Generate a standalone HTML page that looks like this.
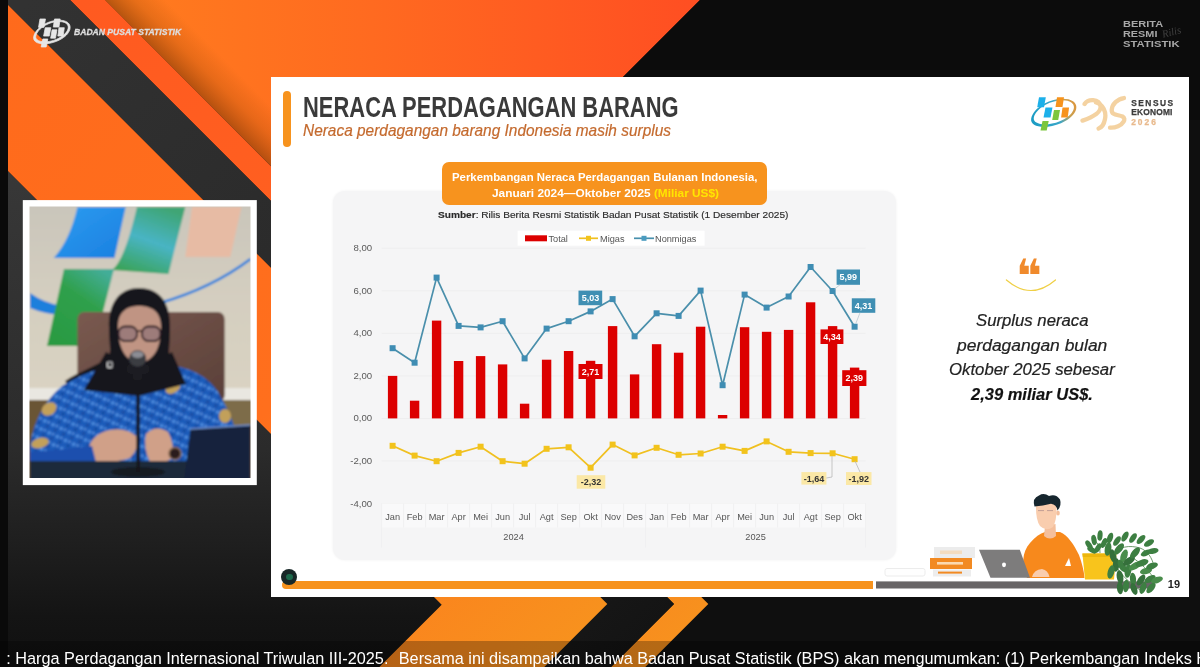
<!DOCTYPE html>
<html lang="id"><head><meta charset="utf-8"><title>Neraca Perdagangan Barang</title>
<style>
html,body{margin:0;padding:0;background:#0f0f0f;}
body{width:1200px;height:667px;overflow:hidden;position:relative;font-family:"Liberation Sans",sans-serif;}
.abs{position:absolute;}
.t{position:absolute;white-space:nowrap;line-height:1;transform-origin:0 0;}
#slide{position:absolute;left:271px;top:77px;width:918px;height:519.6px;background:#fff;}
#panel{position:absolute;left:333px;top:191px;width:562.5px;height:369px;background:#f5f5f6;border-radius:12px;box-shadow:0 0 3px rgba(0,0,0,0.06);}
#obox{position:absolute;left:442.2px;top:162.2px;width:324.8px;height:42.4px;background:#f7931e;border-radius:7px;}
#ticker{position:absolute;left:0;top:641px;width:1200px;height:26px;background:rgba(0,0,0,0.27);}
.q{font-size:16px;font-style:italic;color:#222;-webkit-text-stroke:0.2px #222;}
.brs{font-size:9.8px;font-weight:bold;color:#a8a8a8;}
.se{font-size:8.4px;font-weight:bold;color:#3c3c3c;-webkit-text-stroke:0.25px #3c3c3c;}
</style></head><body>
<svg class="abs" style="left:0;top:0" width="1200" height="667" viewBox="0 0 1200 667">
<defs>
<linearGradient id="gOr" gradientUnits="userSpaceOnUse" x1="0" y1="0" x2="600" y2="640"><stop offset="0" stop-color="#ff6a1c"/><stop offset="0.55" stop-color="#ff6f1d"/><stop offset="1" stop-color="#f7931e"/></linearGradient>
<linearGradient id="gRed" gradientUnits="userSpaceOnUse" x1="80" y1="0" x2="700" y2="640"><stop offset="0" stop-color="#ff5a20"/><stop offset="0.5" stop-color="#ff6220"/><stop offset="1" stop-color="#f7931e"/></linearGradient>
<linearGradient id="gBand" gradientUnits="userSpaceOnUse" x1="30" y1="0" x2="640" y2="640"><stop offset="0" stop-color="#323232"/><stop offset="0.45" stop-color="#2a2a2a"/><stop offset="1" stop-color="#141414"/></linearGradient>
<linearGradient id="gTop" gradientUnits="userSpaceOnUse" x1="105" y1="0" x2="700" y2="0"><stop offset="0" stop-color="#ff7d1e"/><stop offset="0.45" stop-color="#ff6a20"/><stop offset="1" stop-color="#ff4e22"/></linearGradient>
<linearGradient id="gSh" gradientUnits="userSpaceOnUse" x1="105" y1="0" x2="135" y2="-30"><stop offset="0" stop-color="#6b2c00" stop-opacity="0.5"/><stop offset="0.5" stop-color="#8a3c00" stop-opacity="0.2"/><stop offset="1" stop-color="#8a3c00" stop-opacity="0"/></linearGradient>
<linearGradient id="gDk" gradientUnits="userSpaceOnUse" x1="0" y1="163" x2="0" y2="667"><stop offset="0" stop-color="#383838"/><stop offset="0.57" stop-color="#2b2b2b"/><stop offset="0.75" stop-color="#1f1f1f"/><stop offset="0.9" stop-color="#141414"/><stop offset="1" stop-color="#101010"/></linearGradient>
</defs>
<rect width="1200" height="667" fill="#0f0f0f"/>
<polygon points="105,0 700,0 400,300 405,300" fill="url(#gTop)"/>
<polygon points="105,0 165,0 465,300 405,300" fill="url(#gSh)"/>
<polygon points="70,0 105,0 708.3,604 645.3,667 611,667 674,604" fill="url(#gRed)"/>
<polygon points="3,0 70,0 674,604 611,667 544.3,667 607.3,604" fill="url(#gBand)"/>
<polygon points="0,163 441.7,604.7 379.4,667 0,667" fill="url(#gDk)"/>
<polygon points="0,0 3,0 607.3,604 544.3,667 379.4,667 441.7,604.7 0,163" fill="url(#gOr)"/>
<polygon points="700,0 1200,0 1200,120 580,120" fill="#0c0c0c"/>
<rect x="0" y="0" width="8" height="667" fill="#0a0a0a"/>
</svg>
<svg class="abs" style="left:28px;top:12px" width="50" height="42" viewBox="28 12 50 42"><g transform="translate(33.5 18.2) scale(0.8084 0.84) translate(-1031 -96.3)"><g stroke="#e6e6e6" stroke-width="0.9" stroke-linejoin="round"><path fill-rule="evenodd" fill="#e6e6e6" d="M1031.2,118.5 C1029.5,127.5 1046,129.5 1061,123.2 C1075,117.3 1080.5,106.5 1073,101.2 C1067,97 1054,98.2 1044.5,103.5 C1036,108.2 1032,114 1031.2,118.5 Z M1033.8,117.8 C1034.6,113.5 1038.5,108.8 1045.5,104.8 C1054.5,99.8 1066,98.8 1071.3,102.4 C1077.5,106.8 1072.5,116 1059.8,121.3 C1046.5,126.8 1032.6,124.6 1033.8,117.8 Z"/><polygon fill="#e6e6e6" points="1039.0,97.2 1045.8,97.2 1044.0,107.2 1037.2,107.2"/><polygon fill="#e6e6e6" points="1045.5,107.6 1052.5,107.6 1050.5,117.6 1043.5,117.6"/><polygon fill="#e6e6e6" points="1054.0,110.1 1060.0,110.1 1058.2,120.1 1052.2,120.1"/><polygon fill="#e6e6e6" points="1042.5,121.0 1048.7,121.0 1046.7,130.6 1040.5,130.6"/><polygon fill="#e6e6e6" points="1057.0,97.2 1064.0,97.2 1062.5,106.9 1055.5,106.9"/><polygon fill="#e6e6e6" points="1062.5,107.6 1069.1,107.6 1067.7,117.6 1061.1,117.6"/></g></g></svg>
<div class="t" id="bpsname" style="left:74px;top:27.8px;font-size:9.3px;font-weight:bold;font-style:italic;color:#dedede;-webkit-text-stroke:0.3px #dedede;transform:scaleX(0.9225);">BADAN PUSAT STATISTIK</div>
<div class="t brs" id="brs1" style="left:1122.5px;top:18.9px;transform:scaleX(1.122);">BERITA</div>
<div class="t brs" id="brs2" style="left:1122.5px;top:29px;transform:scaleX(1.1085);">RESMI</div>
<div class="t brs" id="brs3" style="left:1122.5px;top:39.2px;transform:scaleX(1.151);">STATISTIK</div>
<div class="t" id="rilis" style="left:1160.5px;top:29.5px;font-family:'Liberation Serif',serif;font-style:italic;font-size:10.5px;color:#404040;transform:rotate(-14deg);">Rilis</div>
<svg class="abs" style="left:20px;top:197px" width="240" height="292" viewBox="20 197 240 292">
<defs>
<filter id="vb" x="-5%" y="-5%" width="110%" height="110%"><feGaussianBlur stdDeviation="1.1"/></filter>
<filter id="vb2" x="-20%" y="-20%" width="140%" height="140%"><feGaussianBlur stdDeviation="2.2"/></filter>
<clipPath id="vc"><rect x="29.5" y="206.6" width="221" height="271.4"/></clipPath>
<linearGradient id="gWall" x1="0" y1="0" x2="0" y2="1"><stop offset="0" stop-color="#c9c5ba"/><stop offset="0.5" stop-color="#d4cec0"/><stop offset="1" stop-color="#dad3c2"/></linearGradient>
<linearGradient id="gBlue" x1="0" y1="0" x2="1" y2="1"><stop offset="0" stop-color="#2d9cf0"/><stop offset="1" stop-color="#1a7fe0"/></linearGradient>
<linearGradient id="gTeal" x1="0.7" y1="0" x2="0.3" y2="1"><stop offset="0" stop-color="#3fa574"/><stop offset="0.5" stop-color="#48b4c4"/><stop offset="1" stop-color="#3aa35a"/></linearGradient>
<linearGradient id="gGreen" x1="0.8" y1="0" x2="0.2" y2="1"><stop offset="0" stop-color="#43ad98"/><stop offset="0.4" stop-color="#2fa04c"/><stop offset="1" stop-color="#2a9a42"/></linearGradient>
<linearGradient id="gChair" x1="0" y1="0" x2="1" y2="1"><stop offset="0" stop-color="#7a5a50"/><stop offset="1" stop-color="#5a3f38"/></linearGradient>
<pattern id="batik" width="9" height="9" patternUnits="userSpaceOnUse" patternTransform="rotate(25)"><rect width="9" height="9" fill="#1f5cba"/><circle cx="2.5" cy="2.5" r="1.8" fill="#4f8fe0"/><circle cx="7" cy="6.5" r="1.5" fill="#17469a"/><circle cx="6.5" cy="2" r="0.9" fill="#7ab0f0"/></pattern>
</defs>
<rect x="22.8" y="200.1" width="234" height="285" fill="#ffffff"/>
<g clip-path="url(#vc)"><g filter="url(#vb)">
<rect x="24" y="200" width="232" height="195" fill="url(#gWall)"/>
<rect x="24" y="388" width="232" height="12" fill="#e9e7e1"/>
<rect x="24" y="400" width="232" height="82" fill="#6a5436"/>
<rect x="222" y="400" width="34" height="26" fill="#7d6c4a"/>
<path d="M30,293 Q44,303 62,306 L62,315 Q44,314 30,308 Z" fill="#1b7fdc"/>
<path d="M160,303 Q212,288 250.5,259" fill="none" stroke="#1b7fdc" stroke-width="2.6"/>
<path d="M77.4,207 L125.7,207 L114.5,258 L53.7,258 Q70,240 77.4,207 Z" fill="url(#gBlue)"/>
<path d="M137,207 L185.3,207 L168.5,274 L112,270 Q124,262 137,207 Z" fill="url(#gTeal)"/>
<path d="M64,269 L114,269 L94.2,346 L47,346 Z" fill="url(#gGreen)"/>
<path d="M192,207 L241.5,207 L230.3,257 L185.3,257 Z" fill="#e7bba4"/>
<rect x="77.4" y="312" width="147.3" height="90" rx="7" fill="url(#gChair)"/>
<path d="M139,288 C118,288 108,305 109,328 C109,345 112,352 108,358 C96,366 78,372 65,381 L72,392 L139,398 L186,388 L179,370 C172,364 168,358 169,350 C170,340 170,330 170,325 C170,303 160,288 139,288 Z" fill="#15151b"/>
<path d="M118,326 C118,311 128,306 139,306 C151,306 161,311 161,327 C161,346 155,361 139,363 C124,361 118,346 118,326 Z" fill="#c09483"/>
<rect x="118.5" y="326.5" width="18.5" height="14.5" rx="6.5" fill="#7a6272" fill-opacity="0.5" stroke="#2a1a20" stroke-width="1.8"/>
<rect x="142" y="326.5" width="18.5" height="14.5" rx="6.5" fill="#7a6272" fill-opacity="0.5" stroke="#2a1a20" stroke-width="1.8"/>
<path d="M137,331.5 Q139.5,330 142,331.5" fill="none" stroke="#2a1a20" stroke-width="1.4"/>
<path d="M30,445 Q36,408 62,386 Q85,372 105,368 L139,384 L176,366 Q205,372 218,392 Q232,415 237,436 L237,480 L30,480 Z" fill="url(#batik)"/>
<ellipse cx="49" cy="409" rx="8" ry="6" fill="#c2a05a" transform="rotate(-35 49 409)"/>
<ellipse cx="40" cy="443" rx="9" ry="5" fill="#c2a05a" transform="rotate(-15 40 443)"/>
<ellipse cx="72" cy="457" rx="6" ry="7" fill="#c2a05a"/>
<ellipse cx="173" cy="388" rx="8" ry="5" fill="#c2a05a" transform="rotate(-30 173 388)"/>
<ellipse cx="225" cy="416" rx="6" ry="7" fill="#c2a05a"/>
<path d="M106,352 Q139,372 172,352 L186,384 L139,396 L84,390 Z" fill="#15151b"/>
<path d="M88,452 Q90,436 106,431 Q124,426 136,436 Q140,448 130,458 Q112,464 92,461 Z" fill="#d0a088"/>
<path d="M146,434 Q156,424 168,432 Q175,444 172,458 Q162,466 150,462 Q143,448 146,434 Z" fill="#d0a088"/>
<path d="M30,452 Q60,450 92,446 L96,462 L30,470 Z" fill="#1d4fae"/>
<circle cx="175" cy="453.5" r="6" fill="#2b1d1a" stroke="#8a6a52" stroke-width="1.5"/>
<rect x="30" y="461" width="220" height="19" fill="#1f2a3a"/>
<path d="M184,480 L190.5,429 L250.5,425 L250.5,480 Z" fill="#15223c"/>
<path d="M190.5,429 L250.5,425" stroke="#6f8fcc" stroke-width="1.3" fill="none"/>
<ellipse cx="138" cy="472" rx="27" ry="5" fill="#171b22"/>
<rect x="136.3" y="372" width="3.6" height="100" fill="#17181c"/>
<rect x="127" y="364" width="22" height="10" rx="3" fill="#1b1b20"/>
<rect x="133" y="370" width="9" height="10" rx="2" fill="#1c1c20"/>
<ellipse cx="137.6" cy="358.5" rx="8.6" ry="8.2" fill="#3b3c42"/>
<ellipse cx="137.6" cy="354.6" rx="6" ry="3.4" fill="#8c8d94"/>
<rect x="107.5" y="362" width="4.5" height="5.5" rx="1" fill="none" stroke="#e8e8e8" stroke-width="1.1"/>
</g></g>
</svg>
<div id="slide"></div>
<div class="abs" style="left:283.3px;top:90.8px;width:7.5px;height:56px;border-radius:4px;background:#f7931e"></div>
<div class="t" id="title" style="left:303px;top:93px;font-size:28.6px;font-weight:bold;color:#3a3a3a;transform:scaleX(0.7668);">NERACA PERDAGANGAN BARANG</div>
<div class="t" id="subtitle" style="left:303px;top:121.8px;font-size:16.5px;font-style:italic;color:#c46a2e;-webkit-text-stroke:0.2px #c46a2e;transform:scaleX(0.935);">Neraca perdagangan barang Indonesia masih surplus</div>
<svg class="abs" style="left:1028px;top:92px" width="104" height="44" viewBox="1028 92 104 44"><defs><linearGradient id="gRing" gradientUnits="userSpaceOnUse" x1="1031" y1="120" x2="1077" y2="104"><stop offset="0" stop-color="#1a9cc4"/><stop offset="0.55" stop-color="#3aa6c8"/><stop offset="0.8" stop-color="#c9a050"/><stop offset="1" stop-color="#e0953a"/></linearGradient><filter id="lb"><feGaussianBlur stdDeviation="0.35"/></filter></defs><g filter="url(#lb)"><path fill-rule="evenodd" fill="url(#gRing)" d="M1031.2,118.5 C1029.5,127.5 1046,129.5 1061,123.2 C1075,117.3 1080.5,106.5 1073,101.2 C1067,97 1054,98.2 1044.5,103.5 C1036,108.2 1032,114 1031.2,118.5 Z M1033.8,117.8 C1034.6,113.5 1038.5,108.8 1045.5,104.8 C1054.5,99.8 1066,98.8 1071.3,102.4 C1077.5,106.8 1072.5,116 1059.8,121.3 C1046.5,126.8 1032.6,124.6 1033.8,117.8 Z"/><polygon fill="#1fb0ea" points="1039.0,97.2 1045.8,97.2 1044.0,107.2 1037.2,107.2"/><polygon fill="#1fb0ea" points="1045.5,107.6 1052.5,107.6 1050.5,117.6 1043.5,117.6"/><polygon fill="#7cc63c" points="1054.0,110.1 1060.0,110.1 1058.2,120.1 1052.2,120.1"/><polygon fill="#7cc63c" points="1042.5,121.0 1048.7,121.0 1046.7,130.6 1040.5,130.6"/><polygon fill="#f7931e" points="1057.0,97.2 1064.0,97.2 1062.5,106.9 1055.5,106.9"/><polygon fill="#f7931e" points="1062.5,107.6 1069.1,107.6 1067.7,117.6 1061.1,117.6"/><g fill="none" stroke="#f3cf9a" stroke-width="4.3" stroke-linecap="round" stroke-linejoin="round" opacity="0.92"><path d="M1084.6,104 C1088,98.6 1099,98.5 1100.5,106 C1101.5,112.5 1093,117 1082.5,120.6"/><path d="M1096,102.5 C1103,104 1106.5,112 1105,119 C1104,124.5 1101.5,127.5 1098.6,128.5"/><path d="M1124,98 C1117.5,99 1112,104 1111.7,110 C1111.5,115.5 1118,114.5 1122.5,116.5 C1127,119 1122.5,124.5 1118,126.3 C1115,127.5 1112.5,127.8 1110,127.6"/></g></g></svg>
<div class="t se" id="se1" style="left:1131.2px;top:99.3px;letter-spacing:1.5px;">SENSUS</div>
<div class="t se" id="se2" style="left:1131.2px;top:108.4px;letter-spacing:0.2px;">EKONOMI</div>
<div class="t se" id="se3" style="left:1131.2px;top:117.6px;letter-spacing:2px;color:#e8b98c;-webkit-text-stroke:0.25px #e8b98c;">2026</div>
<div id="panel"></div>
<div id="obox"></div>
<div class="t" id="ob1" style="left:452px;top:171.5px;font-size:11.3px;font-weight:bold;color:#fff;transform:scaleX(1.0075);">Perkembangan Neraca Perdagangan Bulanan Indonesia,</div>
<div class="t" id="ob2" style="left:491.5px;top:188px;font-size:11.3px;font-weight:bold;color:#fff;transform:scaleX(1.048);">Januari 2024—Oktober 2025 <span style="color:#ffe500">(Miliar US$)</span></div>
<div class="t" id="src" style="left:438px;top:209.8px;font-size:9.8px;color:#2a2a2a;-webkit-text-stroke:0.15px #2a2a2a;transform:scaleX(1.033);"><b>Sumber</b>: Rilis Berita Resmi Statistik Badan Pusat Statistik (1 Desember 2025)</div>
<svg class="abs" style="left:0;top:0" width="1200" height="667" viewBox="0 0 1200 667" font-family="'Liberation Sans', sans-serif">
<line x1="381.6" x2="865.6" y1="248.2" y2="248.2" stroke="#eeeeef" stroke-width="1"/>
<line x1="381.6" x2="865.6" y1="290.8" y2="290.8" stroke="#eeeeef" stroke-width="1"/>
<line x1="381.6" x2="865.6" y1="333.3" y2="333.3" stroke="#eeeeef" stroke-width="1"/>
<line x1="381.6" x2="865.6" y1="375.9" y2="375.9" stroke="#eeeeef" stroke-width="1"/>
<line x1="381.6" x2="865.6" y1="418.4" y2="418.4" stroke="#eeeeef" stroke-width="1"/>
<line x1="381.6" x2="865.6" y1="460.9" y2="460.9" stroke="#eeeeef" stroke-width="1"/>
<line x1="381.6" x2="865.6" y1="503.5" y2="503.5" stroke="#eeeeef" stroke-width="1"/>
<rect x="381.6" y="503.5" width="484" height="24" fill="#f9f9fa"/>
<line x1="381.6" x2="381.6" y1="503.5" y2="547.5" stroke="#f0f0f1" stroke-width="1"/>
<line x1="403.6" x2="403.6" y1="503.5" y2="527.5" stroke="#f0f0f1" stroke-width="1"/>
<line x1="425.6" x2="425.6" y1="503.5" y2="527.5" stroke="#f0f0f1" stroke-width="1"/>
<line x1="447.6" x2="447.6" y1="503.5" y2="527.5" stroke="#f0f0f1" stroke-width="1"/>
<line x1="469.6" x2="469.6" y1="503.5" y2="527.5" stroke="#f0f0f1" stroke-width="1"/>
<line x1="491.6" x2="491.6" y1="503.5" y2="527.5" stroke="#f0f0f1" stroke-width="1"/>
<line x1="513.6" x2="513.6" y1="503.5" y2="527.5" stroke="#f0f0f1" stroke-width="1"/>
<line x1="535.6" x2="535.6" y1="503.5" y2="527.5" stroke="#f0f0f1" stroke-width="1"/>
<line x1="557.6" x2="557.6" y1="503.5" y2="527.5" stroke="#f0f0f1" stroke-width="1"/>
<line x1="579.6" x2="579.6" y1="503.5" y2="527.5" stroke="#f0f0f1" stroke-width="1"/>
<line x1="601.6" x2="601.6" y1="503.5" y2="527.5" stroke="#f0f0f1" stroke-width="1"/>
<line x1="623.6" x2="623.6" y1="503.5" y2="527.5" stroke="#f0f0f1" stroke-width="1"/>
<line x1="645.6" x2="645.6" y1="503.5" y2="547.5" stroke="#f0f0f1" stroke-width="1"/>
<line x1="667.6" x2="667.6" y1="503.5" y2="527.5" stroke="#f0f0f1" stroke-width="1"/>
<line x1="689.6" x2="689.6" y1="503.5" y2="527.5" stroke="#f0f0f1" stroke-width="1"/>
<line x1="711.6" x2="711.6" y1="503.5" y2="527.5" stroke="#f0f0f1" stroke-width="1"/>
<line x1="733.6" x2="733.6" y1="503.5" y2="527.5" stroke="#f0f0f1" stroke-width="1"/>
<line x1="755.6" x2="755.6" y1="503.5" y2="527.5" stroke="#f0f0f1" stroke-width="1"/>
<line x1="777.6" x2="777.6" y1="503.5" y2="527.5" stroke="#f0f0f1" stroke-width="1"/>
<line x1="799.6" x2="799.6" y1="503.5" y2="527.5" stroke="#f0f0f1" stroke-width="1"/>
<line x1="821.6" x2="821.6" y1="503.5" y2="527.5" stroke="#f0f0f1" stroke-width="1"/>
<line x1="843.6" x2="843.6" y1="503.5" y2="527.5" stroke="#f0f0f1" stroke-width="1"/>
<line x1="865.6" x2="865.6" y1="503.5" y2="547.5" stroke="#f0f0f1" stroke-width="1"/>
<text x="372.2" y="251.2" font-size="9.6" fill="#5a5a5a" text-anchor="end">8,00</text>
<text x="372.2" y="293.8" font-size="9.6" fill="#5a5a5a" text-anchor="end">6,00</text>
<text x="372.2" y="336.3" font-size="9.6" fill="#5a5a5a" text-anchor="end">4,00</text>
<text x="372.2" y="378.9" font-size="9.6" fill="#5a5a5a" text-anchor="end">2,00</text>
<text x="372.2" y="421.4" font-size="9.6" fill="#5a5a5a" text-anchor="end">0,00</text>
<text x="372.2" y="463.9" font-size="9.6" fill="#5a5a5a" text-anchor="end">-2,00</text>
<text x="372.2" y="506.5" font-size="9.6" fill="#5a5a5a" text-anchor="end">-4,00</text>
<rect x="387.9" y="375.9" width="9.4" height="42.5" fill="#dc0000"/>
<rect x="409.9" y="400.7" width="9.4" height="17.7" fill="#dc0000"/>
<rect x="431.9" y="320.6" width="9.4" height="97.8" fill="#dc0000"/>
<rect x="453.9" y="361.0" width="9.4" height="57.4" fill="#dc0000"/>
<rect x="475.9" y="356.1" width="9.4" height="62.3" fill="#dc0000"/>
<rect x="497.9" y="364.4" width="9.4" height="54.0" fill="#dc0000"/>
<rect x="519.9" y="403.7" width="9.4" height="14.7" fill="#dc0000"/>
<rect x="541.9" y="359.7" width="9.4" height="58.7" fill="#dc0000"/>
<rect x="563.9" y="351.0" width="9.4" height="67.4" fill="#dc0000"/>
<rect x="585.9" y="360.8" width="9.4" height="57.6" fill="#dc0000"/>
<rect x="607.9" y="326.1" width="9.4" height="92.3" fill="#dc0000"/>
<rect x="629.9" y="374.4" width="9.4" height="44.0" fill="#dc0000"/>
<rect x="651.9" y="344.2" width="9.4" height="74.2" fill="#dc0000"/>
<rect x="673.9" y="352.7" width="9.4" height="65.7" fill="#dc0000"/>
<rect x="695.9" y="326.7" width="9.4" height="91.7" fill="#dc0000"/>
<rect x="717.9" y="415.0" width="9.4" height="3.4" fill="#dc0000"/>
<rect x="739.9" y="327.2" width="9.4" height="91.2" fill="#dc0000"/>
<rect x="761.9" y="331.8" width="9.4" height="86.6" fill="#dc0000"/>
<rect x="783.9" y="329.9" width="9.4" height="88.5" fill="#dc0000"/>
<rect x="805.9" y="302.3" width="9.4" height="116.1" fill="#dc0000"/>
<rect x="827.9" y="326.1" width="9.4" height="92.3" fill="#dc0000"/>
<rect x="849.9" y="367.6" width="9.4" height="50.8" fill="#dc0000"/>
<polyline points="392.6,348.2 414.6,362.7 436.6,277.6 458.6,325.9 480.6,327.4 502.6,321.2 524.6,358.4 546.6,328.6 568.6,321.2 590.6,311.4 612.6,299.1 634.6,336.3 656.6,313.3 678.6,315.9 700.6,290.6 722.6,385.2 744.6,294.6 766.6,307.6 788.6,296.5 810.6,267.0 832.6,291.0 854.6,326.7" fill="none" stroke="#4a8fab" stroke-width="1.7" stroke-linejoin="round"/>
<rect x="389.6" y="345.2" width="6" height="6" fill="#3f8db3"/>
<rect x="411.6" y="359.7" width="6" height="6" fill="#3f8db3"/>
<rect x="433.6" y="274.6" width="6" height="6" fill="#3f8db3"/>
<rect x="455.6" y="322.9" width="6" height="6" fill="#3f8db3"/>
<rect x="477.6" y="324.4" width="6" height="6" fill="#3f8db3"/>
<rect x="499.6" y="318.2" width="6" height="6" fill="#3f8db3"/>
<rect x="521.6" y="355.4" width="6" height="6" fill="#3f8db3"/>
<rect x="543.6" y="325.6" width="6" height="6" fill="#3f8db3"/>
<rect x="565.6" y="318.2" width="6" height="6" fill="#3f8db3"/>
<rect x="587.6" y="308.4" width="6" height="6" fill="#3f8db3"/>
<rect x="609.6" y="296.1" width="6" height="6" fill="#3f8db3"/>
<rect x="631.6" y="333.3" width="6" height="6" fill="#3f8db3"/>
<rect x="653.6" y="310.3" width="6" height="6" fill="#3f8db3"/>
<rect x="675.6" y="312.9" width="6" height="6" fill="#3f8db3"/>
<rect x="697.6" y="287.6" width="6" height="6" fill="#3f8db3"/>
<rect x="719.6" y="382.2" width="6" height="6" fill="#3f8db3"/>
<rect x="741.6" y="291.6" width="6" height="6" fill="#3f8db3"/>
<rect x="763.6" y="304.6" width="6" height="6" fill="#3f8db3"/>
<rect x="785.6" y="293.5" width="6" height="6" fill="#3f8db3"/>
<rect x="807.6" y="264.0" width="6" height="6" fill="#3f8db3"/>
<rect x="829.6" y="288.0" width="6" height="6" fill="#3f8db3"/>
<rect x="851.6" y="323.7" width="6" height="6" fill="#3f8db3"/>
<polyline points="392.6,445.8 414.6,455.6 436.6,461.2 458.6,452.9 480.6,446.7 502.6,461.2 524.6,463.7 546.6,448.8 568.6,447.3 590.6,467.7 612.6,444.6 634.6,455.4 656.6,447.8 678.6,454.8 700.6,453.5 722.6,446.7 744.6,450.9 766.6,441.4 788.6,451.8 810.6,453.1 832.6,453.3 854.6,459.2" fill="none" stroke="#f0c020" stroke-width="1.7" stroke-linejoin="round"/>
<rect x="389.6" y="442.8" width="6" height="6" fill="#f2c31c"/>
<rect x="411.6" y="452.6" width="6" height="6" fill="#f2c31c"/>
<rect x="433.6" y="458.2" width="6" height="6" fill="#f2c31c"/>
<rect x="455.6" y="449.9" width="6" height="6" fill="#f2c31c"/>
<rect x="477.6" y="443.7" width="6" height="6" fill="#f2c31c"/>
<rect x="499.6" y="458.2" width="6" height="6" fill="#f2c31c"/>
<rect x="521.6" y="460.7" width="6" height="6" fill="#f2c31c"/>
<rect x="543.6" y="445.8" width="6" height="6" fill="#f2c31c"/>
<rect x="565.6" y="444.3" width="6" height="6" fill="#f2c31c"/>
<rect x="587.6" y="464.7" width="6" height="6" fill="#f2c31c"/>
<rect x="609.6" y="441.6" width="6" height="6" fill="#f2c31c"/>
<rect x="631.6" y="452.4" width="6" height="6" fill="#f2c31c"/>
<rect x="653.6" y="444.8" width="6" height="6" fill="#f2c31c"/>
<rect x="675.6" y="451.8" width="6" height="6" fill="#f2c31c"/>
<rect x="697.6" y="450.5" width="6" height="6" fill="#f2c31c"/>
<rect x="719.6" y="443.7" width="6" height="6" fill="#f2c31c"/>
<rect x="741.6" y="447.9" width="6" height="6" fill="#f2c31c"/>
<rect x="763.6" y="438.4" width="6" height="6" fill="#f2c31c"/>
<rect x="785.6" y="448.8" width="6" height="6" fill="#f2c31c"/>
<rect x="807.6" y="450.1" width="6" height="6" fill="#f2c31c"/>
<rect x="829.6" y="450.3" width="6" height="6" fill="#f2c31c"/>
<rect x="851.6" y="456.2" width="6" height="6" fill="#f2c31c"/>
<text x="392.6" y="519.5" font-size="9.2" fill="#555" text-anchor="middle">Jan</text>
<text x="414.6" y="519.5" font-size="9.2" fill="#555" text-anchor="middle">Feb</text>
<text x="436.6" y="519.5" font-size="9.2" fill="#555" text-anchor="middle">Mar</text>
<text x="458.6" y="519.5" font-size="9.2" fill="#555" text-anchor="middle">Apr</text>
<text x="480.6" y="519.5" font-size="9.2" fill="#555" text-anchor="middle">Mei</text>
<text x="502.6" y="519.5" font-size="9.2" fill="#555" text-anchor="middle">Jun</text>
<text x="524.6" y="519.5" font-size="9.2" fill="#555" text-anchor="middle">Jul</text>
<text x="546.6" y="519.5" font-size="9.2" fill="#555" text-anchor="middle">Agt</text>
<text x="568.6" y="519.5" font-size="9.2" fill="#555" text-anchor="middle">Sep</text>
<text x="590.6" y="519.5" font-size="9.2" fill="#555" text-anchor="middle">Okt</text>
<text x="612.6" y="519.5" font-size="9.2" fill="#555" text-anchor="middle">Nov</text>
<text x="634.6" y="519.5" font-size="9.2" fill="#555" text-anchor="middle">Des</text>
<text x="656.6" y="519.5" font-size="9.2" fill="#555" text-anchor="middle">Jan</text>
<text x="678.6" y="519.5" font-size="9.2" fill="#555" text-anchor="middle">Feb</text>
<text x="700.6" y="519.5" font-size="9.2" fill="#555" text-anchor="middle">Mar</text>
<text x="722.6" y="519.5" font-size="9.2" fill="#555" text-anchor="middle">Apr</text>
<text x="744.6" y="519.5" font-size="9.2" fill="#555" text-anchor="middle">Mei</text>
<text x="766.6" y="519.5" font-size="9.2" fill="#555" text-anchor="middle">Jun</text>
<text x="788.6" y="519.5" font-size="9.2" fill="#555" text-anchor="middle">Jul</text>
<text x="810.6" y="519.5" font-size="9.2" fill="#555" text-anchor="middle">Agt</text>
<text x="832.6" y="519.5" font-size="9.2" fill="#555" text-anchor="middle">Sep</text>
<text x="854.6" y="519.5" font-size="9.2" fill="#555" text-anchor="middle">Okt</text>
<text x="513.6" y="540.4" font-size="9.2" fill="#555" text-anchor="middle">2024</text>
<text x="755.6" y="540.4" font-size="9.2" fill="#555" text-anchor="middle">2025</text>
<rect x="578.5" y="290.6" width="23.7" height="14.6" fill="#3f8fb3"/>
<text x="590.4" y="301.1" font-size="9" font-weight="bold" fill="#fff" text-anchor="middle">5,03</text>
<rect x="836.6" y="269.5" width="23.4" height="15.3" fill="#3f8fb3"/>
<text x="848.3" y="280.3" font-size="9" font-weight="bold" fill="#fff" text-anchor="middle">5,99</text>
<rect x="851.8" y="298.3" width="23.5" height="14.5" fill="#3f8fb3"/>
<text x="863.5" y="308.8" font-size="9" font-weight="bold" fill="#fff" text-anchor="middle">4,31</text>
<rect x="578.5" y="364" width="24.0" height="15.0" fill="#dc0000"/>
<text x="590.5" y="374.7" font-size="9" font-weight="bold" fill="#fff" text-anchor="middle">2,71</text>
<rect x="820.5" y="329.4" width="22.9" height="14.6" fill="#dc0000"/>
<text x="832.0" y="339.9" font-size="9" font-weight="bold" fill="#fff" text-anchor="middle">4,34</text>
<rect x="842.2" y="370.2" width="24.2" height="15.8" fill="#dc0000"/>
<text x="854.3" y="381.3" font-size="9" font-weight="bold" fill="#fff" text-anchor="middle">2,39</text>
<rect x="576.7" y="475.2" width="28.6" height="13.5" fill="#fbe8a6"/>
<text x="591.0" y="485.1" font-size="9" font-weight="bold" fill="#333" text-anchor="middle">-2,32</text>
<rect x="801.4" y="472.1" width="25.0" height="12.5" fill="#fbe8a6"/>
<text x="813.9" y="481.6" font-size="9" font-weight="bold" fill="#333" text-anchor="middle">-1,64</text>
<rect x="846" y="472.1" width="25.5" height="12.9" fill="#fbe8a6"/>
<text x="858.8" y="481.8" font-size="9" font-weight="bold" fill="#333" text-anchor="middle">-1,92</text>
<polyline points="832,456 832,477 826.4,478" fill="none" stroke="#b9b9b9" stroke-width="0.8"/>
<polyline points="855,461 860,472" fill="none" stroke="#b9b9b9" stroke-width="0.8"/>
<polyline points="834.5,289 840,284.8" fill="none" stroke="#b9c9d2" stroke-width="0.8"/>
<polyline points="856,323 860,312.8" fill="none" stroke="#b9c9d2" stroke-width="0.8"/>
<rect x="517.6" y="230.7" width="187" height="15" fill="#ffffff"/>
<rect x="525" y="235.3" width="22" height="6" fill="#dc0000"/>
<text x="548.5" y="241.6" font-size="9.2" fill="#555">Total</text>
<line x1="579" x2="598" y1="238.3" y2="238.3" stroke="#f0c020" stroke-width="1.7"/><rect x="586" y="235.8" width="5" height="5" fill="#f2c31c"/>
<text x="600" y="241.6" font-size="9.2" fill="#555">Migas</text>
<line x1="634" x2="654" y1="238.3" y2="238.3" stroke="#4790ad" stroke-width="1.7"/><rect x="641.5" y="235.8" width="5" height="5" fill="#4a9bbf"/>
<text x="655" y="241.6" font-size="9.2" fill="#555">Nonmigas</text>
</svg>
<div class="t" id="qm" style="left:1016.3px;top:252.6px;transform:scaleX(0.96);font-size:46px;font-weight:bold;color:#f08a2c;font-family:'DejaVu Sans',sans-serif;">❝</div>
<svg class="abs" style="left:1000px;top:275px" width="64" height="20" viewBox="1000 275 64 20"><path d="M1006.4,280 Q1031,301 1055.5,280" fill="none" stroke="#efcf45" stroke-width="1.2" stroke-linecap="round"/></svg>
<div class="t q" id="q1" style="left:976.2px;top:313.2px;transform:scaleX(1.045);">Surplus neraca</div>
<div class="t q" id="q2" style="left:957.3px;top:337.5px;transform:scaleX(1.09);">perdagangan bulan</div>
<div class="t q" id="q3" style="left:949.2px;top:362.4px;transform:scaleX(1.047);">Oktober 2025 sebesar</div>
<div class="t q" id="q4" style="left:970.8px;top:387.2px;font-weight:bold;color:#111;transform:scaleX(1.031);">2,39 miliar US$.</div>
<div class="abs" style="left:282px;top:580.5px;width:590.5px;height:8.3px;border-radius:4px 0 0 4px;background:#f7931e"></div>
<svg class="abs" style="left:875px;top:485px" width="314" height="111" viewBox="875 485 314 111">
<defs><filter id="ib"><feGaussianBlur stdDeviation="0.5"/></filter></defs>
<g filter="url(#ib)">
<rect x="876" y="581.4" width="277" height="7.1" fill="#676566"/>
<rect x="885" y="568.5" width="40" height="7.5" rx="2" fill="#fefefe" stroke="#ececec" stroke-width="1"/>
<rect x="934" y="547" width="41" height="11" fill="#ececec"/>
<rect x="940" y="550.5" width="22" height="3.6" fill="#f3dcc0"/>
<rect x="930" y="558" width="42" height="11" fill="#f28a22"/>
<rect x="937" y="562" width="26" height="2.6" fill="#fbd9b0"/>
<rect x="933" y="569.5" width="38" height="7" fill="#ededed"/>
<rect x="938" y="571.6" width="24" height="2" fill="#f28a22"/>
<path d="M1027,578 C1021,566 1022,552 1030,543 C1035,537 1040,533.5 1045,532 L1060,532 C1068,535 1074,545 1079,555 C1082,563 1084,571 1084.5,578 Z" fill="#f7891f"/>
<path d="M1065,566 L1069,558 L1071,566 Z" fill="#ffffff"/>
<path d="M1044,536 L1045,526 L1055.5,524 L1056,536 Q1050,541 1044,536 Z" fill="#f4bf9c"/>
<path d="M1036,504 Q1035.5,520 1040,526 Q1046,532 1053,527 Q1057,520 1056.6,506 Q1050,500 1036,504 Z" fill="#f9cdae"/>
<ellipse cx="1058" cy="513" rx="1.8" ry="2.6" fill="#f4bf9c"/>
<path d="M1034.5,506.5 Q1032,498 1039,495.5 Q1044,492.5 1049,496 Q1056,493.5 1060,499.5 Q1062,505.5 1057.5,510.5 Q1056.5,504.5 1051,503.8 Q1043,506 1034.5,506.5 Z" fill="#16252e"/>
<path d="M1038,510.6 h6 M1047,510.6 h6" stroke="#aa8888" stroke-width="0.7" fill="none"/>
<path d="M1032,577 Q1034,569.5 1042,569 Q1048,570 1049.5,577 Z" fill="#f9cdae"/>
<polygon points="979,549.8 1019.8,549.8 1030,577.8 990.5,577.8" fill="#7d7b7c"/>
<ellipse cx="1004" cy="564.8" rx="2" ry="2.4" fill="#ffffff"/>
<path d="M1082.4,553.5 L1116.4,553.5 L1114,579.5 L1085,579.5 Z" fill="#f8c41c"/>
<path d="M1082.4,553.5 L1116.4,553.5 L1116,557 L1082.8,557 Z" fill="#ecb610"/>
<path d="M1112,556 C1118,546 1130,545 1140,548 C1148,551 1152,558 1154,566 M1113,560 C1118,572 1128,582 1140,590 M1130,556 C1140,562 1150,572 1157,582 M1100,553 C1100,545 1097,541 1093,541" fill="none" stroke="#5d8f5a" stroke-width="0.9"/>
<ellipse cx="1089" cy="545" rx="2.6" ry="5.2" fill="#3d7f42" transform="rotate(-35 1089 545)"/><ellipse cx="1094" cy="540" rx="2.6" ry="5.2" fill="#3d7f42" transform="rotate(-10 1094 540)"/><ellipse cx="1100" cy="535.5" rx="2.6" ry="5.2" fill="#3d7f42" transform="rotate(5 1100 535.5)"/><ellipse cx="1104" cy="543" rx="2.6" ry="5.2" fill="#3d7f42" transform="rotate(25 1104 543)"/><ellipse cx="1092" cy="550" rx="2.6" ry="5.2" fill="#3d7f42" transform="rotate(-60 1092 550)"/><ellipse cx="1098" cy="548" rx="2.6" ry="5.2" fill="#3d7f42" transform="rotate(30 1098 548)"/><ellipse cx="1110" cy="538" rx="2.8" ry="5.6" fill="#3d7f42" transform="rotate(20 1110 538)"/><ellipse cx="1117" cy="541" rx="2.8" ry="5.6" fill="#3d7f42" transform="rotate(35 1117 541)"/><ellipse cx="1125" cy="536.5" rx="2.8" ry="5.6" fill="#3d7f42" transform="rotate(30 1125 536.5)"/><ellipse cx="1133" cy="538" rx="2.8" ry="5.6" fill="#3d7f42" transform="rotate(35 1133 538)"/><ellipse cx="1141" cy="539.5" rx="2.8" ry="5.6" fill="#3d7f42" transform="rotate(45 1141 539.5)"/><ellipse cx="1149" cy="543" rx="2.8" ry="5.6" fill="#3d7f42" transform="rotate(60 1149 543)"/><ellipse cx="1153" cy="551" rx="2.8" ry="5.6" fill="#3d7f42" transform="rotate(80 1153 551)"/><ellipse cx="1146" cy="553" rx="2.8" ry="5.6" fill="#3d7f42" transform="rotate(65 1146 553)"/><ellipse cx="1108" cy="549" rx="3.3" ry="6.8" fill="#3d7f42" transform="rotate(10 1108 549)"/><ellipse cx="1113" cy="556" rx="3.3" ry="6.8" fill="#356f3a" transform="rotate(-15 1113 556)"/><ellipse cx="1119" cy="549" rx="3.3" ry="6.8" fill="#3d7f42" transform="rotate(40 1119 549)"/><ellipse cx="1124" cy="556" rx="3.3" ry="6.8" fill="#4a8d4c" transform="rotate(20 1124 556)"/><ellipse cx="1116" cy="565" rx="3.3" ry="6.8" fill="#356f3a" transform="rotate(5 1116 565)"/><ellipse cx="1111" cy="572" rx="3.3" ry="6.8" fill="#3d7f42" transform="rotate(15 1111 572)"/><ellipse cx="1122" cy="566" rx="3.3" ry="6.8" fill="#3d7f42" transform="rotate(-30 1122 566)"/><ellipse cx="1129" cy="561" rx="3.3" ry="6.8" fill="#356f3a" transform="rotate(55 1129 561)"/><ellipse cx="1135" cy="553" rx="3.3" ry="6.8" fill="#3d7f42" transform="rotate(40 1135 553)"/><ellipse cx="1128" cy="571" rx="3.3" ry="6.8" fill="#3d7f42" transform="rotate(10 1128 571)"/><ellipse cx="1120" cy="577" rx="3.3" ry="6.8" fill="#356f3a" transform="rotate(-10 1120 577)"/><ellipse cx="1135" cy="566" rx="3.3" ry="6.8" fill="#4a8d4c" transform="rotate(60 1135 566)"/><ellipse cx="1142" cy="563" rx="3.3" ry="6.8" fill="#3d7f42" transform="rotate(70 1142 563)"/><ellipse cx="1146" cy="571" rx="3.1" ry="6.2" fill="#4a8d4c" transform="rotate(75 1146 571)"/><ellipse cx="1152" cy="566" rx="3.1" ry="6.2" fill="#3d7f42" transform="rotate(70 1152 566)"/><ellipse cx="1133" cy="579" rx="3.1" ry="6.2" fill="#3d7f42" transform="rotate(-5 1133 579)"/><ellipse cx="1141" cy="580" rx="3.1" ry="6.2" fill="#356f3a" transform="rotate(35 1141 580)"/><ellipse cx="1150" cy="579" rx="3.1" ry="6.2" fill="#3d7f42" transform="rotate(60 1150 579)"/><ellipse cx="1157" cy="580" rx="3.1" ry="6.2" fill="#4a8d4c" transform="rotate(70 1157 580)"/><ellipse cx="1126" cy="586" rx="3.1" ry="6.2" fill="#3d7f42" transform="rotate(5 1126 586)"/><ellipse cx="1134" cy="589" rx="3.1" ry="6.2" fill="#356f3a" transform="rotate(-20 1134 589)"/><ellipse cx="1143" cy="588" rx="3.1" ry="6.2" fill="#3d7f42" transform="rotate(20 1143 588)"/><ellipse cx="1151" cy="588" rx="3.1" ry="6.2" fill="#3d7f42" transform="rotate(40 1151 588)"/><ellipse cx="1120" cy="588" rx="3.1" ry="6.2" fill="#356f3a" transform="rotate(-5 1120 588)"/>
</g>
</svg>
<div class="abs" style="left:281.3px;top:569px;width:16px;height:16px;border-radius:8px;background:#182828;"></div>
<div class="abs" style="left:286px;top:573.6px;width:6.6px;height:6.6px;border-radius:4px;background:#1c6a4c;"></div>
<div class="t" id="pn" style="left:1167.8px;top:578.6px;font-size:11px;font-weight:bold;color:#222;">19</div>
<div id="ticker"></div>
<div class="t" id="tk" style="left:6.3px;top:649.9px;font-size:16.25px;color:#fff;">: Harga Perdagangan Internasional Triwulan III-2025.&nbsp; <span style="margin-left:1.3px">Bersama</span> ini disampaikan bahwa Badan Pusat Statistik (BPS) akan mengumumkan: (1) Perkembangan Indeks Harga</div>
</body></html>
